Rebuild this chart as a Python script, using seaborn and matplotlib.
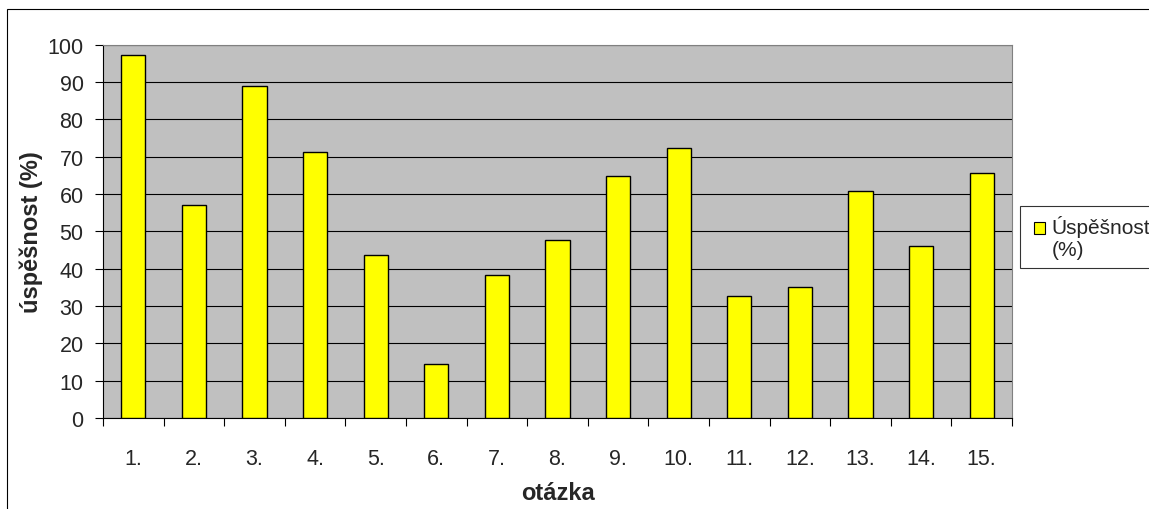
import matplotlib
matplotlib.use("Agg")
import matplotlib.pyplot as plt
from matplotlib.legend_handler import HandlerPatch
from matplotlib.patches import Patch, Rectangle
import numpy as np
import seaborn as sns

questions = ["1.", "2.", "3.", "4.", "5.", "6.", "7.", "8.", "9.", "10.",
             "11.", "12.", "13.", "14.", "15."]
success = [97.3, 57.1, 88.9, 71.3, 43.6, 14.4, 38.3, 47.7, 64.7, 72.2,
           32.6, 35.2, 60.8, 46.2, 65.6]
y_ticks = [0, 10, 20, 30, 40, 50, 60, 70, 80, 90, 100]

sns.set_style("white")
plt.rcParams["font.family"] = ["Liberation Sans", "DejaVu Sans"]

fig = plt.figure(figsize=(11.49, 5.10), dpi=100)
ax = fig.add_axes([103 / 1149, 91 / 510, 909 / 1149, 373.3 / 510])
ax.set_facecolor("#C0C0C0")

sns.barplot(x=questions, y=success, color="#FFFF00", saturation=1,
            edgecolor="black", linewidth=1, width=0.4, ax=ax, zorder=3)

ax.set_xlim(-0.5, len(questions) - 0.5)
ax.set_ylim(0, 100)
ax.set_yticks(y_ticks)
ax.set_yticklabels([str(v) for v in y_ticks])

# category boundaries carry the tick marks, labels sit at the centres
ax.set_xticks(np.arange(-0.5, len(questions), 1))
ax.set_xticklabels([])
ax.set_xticks(range(len(questions)), minor=True)
ax.set_xticklabels(questions, minor=True)
ax.tick_params(axis="x", which="major", direction="out", length=5.8, width=0.8,
               color="black", bottom=True)
ax.tick_params(axis="x", which="minor", length=0, pad=21.3, labelsize=15.5)
ax.tick_params(axis="y", direction="out", length=5.8, width=0.8, color="black",
               pad=8.2, labelsize=15.5, left=True)

ax.yaxis.grid(True, color="black", linewidth=0.8)
ax.xaxis.grid(False)
ax.set_axisbelow(True)

for side in ("left", "bottom"):
    ax.spines[side].set_color("black")
    ax.spines[side].set_linewidth(0.8)
for side in ("top", "right"):
    ax.spines[side].set_color("#808080")
    ax.spines[side].set_linewidth(0.8)

ax.set_xlabel("otázka", fontsize=17, fontweight="bold")
ax.set_ylabel("úspěšnost (%)", fontsize=17, fontweight="bold")
ax.xaxis.set_label_coords(0.5, -0.168)
ax.yaxis.set_label_coords(-0.066, 0.5)


def top_square(legend, orig_handle, xdescent, ydescent, width, height, fontsize):
    # small square sitting level with the first line of the label
    size = 0.53 * fontsize
    return Rectangle((width - xdescent - size, height - ydescent - size), size, size)


handle = Patch(facecolor="#FFFF00", edgecolor="black", linewidth=0.8)
leg = fig.legend([handle], ["Úspěšnost\n(%)"], loc="upper left",
                 bbox_to_anchor=(1020 / 1149, 303.3 / 510), fontsize=15,
                 frameon=True, fancybox=False, shadow=False,
                 handlelength=0.75, handleheight=1.9, handletextpad=0.32,
                 borderpad=0.45, borderaxespad=0,
                 handler_map={Patch: HandlerPatch(patch_func=top_square)})
leg.get_frame().set_edgecolor("black")
leg.get_frame().set_linewidth(0.8)

# outer chart border, cut off at right and bottom like the reference
fig.patches.append(Rectangle((7 / 1149, -0.1), 2, 500 / 510 + 0.1,
                             transform=fig.transFigure, fill=False,
                             edgecolor="black", linewidth=0.8))

fig.savefig("out.png", dpi=100)
